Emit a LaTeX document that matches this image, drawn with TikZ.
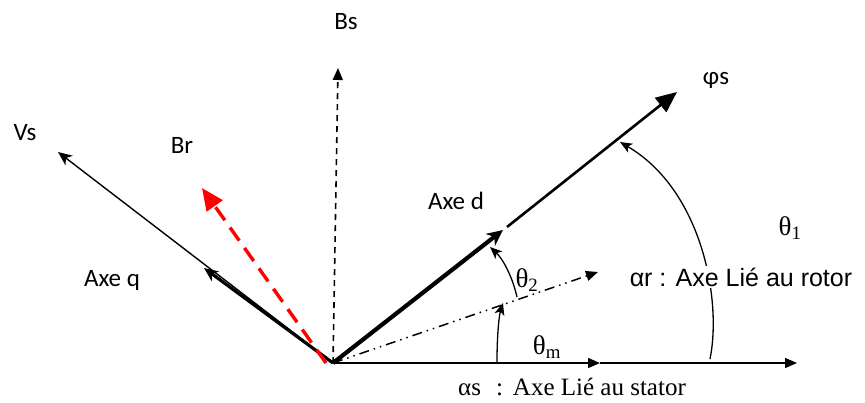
\documentclass[tikz,border=0pt]{standalone}
\usepackage{fontspec}
\setmainfont{Liberation Serif}
\newfontfamily\calib{Carlito}
\newfontfamily\arialf{Liberation Sans}
\usetikzlibrary{arrows.meta}
\tikzset{
  lbl/.style={inner sep=0pt, font=\calib\fontsize{25}{25}\selectfont},
  rlbl/.style={inner sep=0pt, font=\arialf\fontsize{25}{25}\selectfont, fill=white, inner xsep=3pt, inner ysep=2pt},
  slbl/.style={inner sep=0pt, font=\fontsize{25}{25}\selectfont},
  thl/.style={inner sep=0pt, font=\fontsize{27}{27}\selectfont},
  thin ax/.style={line width=1.5pt},
  tri/.style={-{Triangle[length=12pt,width=10pt]}},
  bigtri/.style={-{Triangle[length=21pt,width=18pt]}},
  stl/.style={-{Stealth[length=14pt,width=12pt,inset=4pt]}},
  arcar/.style={line width=1.3pt,-{Stealth[length=12pt,width=10pt,inset=3pt]}},
}
\begin{document}
\begin{tikzpicture}[x=1pt,y=-1pt]
\useasboundingbox (0,0) rectangle (865,402);
% coordinates
\coordinate (O) at (333,363);
\coordinate (Or) at (326,363);
\coordinate (hx1) at (600,363);
\coordinate (hx2) at (797,363);
\coordinate (bs) at (338,68);
\coordinate (vs) at (58,152);
\coordinate (q) at (204,268);
\coordinate (br) at (202,188);
\coordinate (d) at (503,230);
\coordinate (d2) at (507,227);
\coordinate (phi) at (677,92);
\coordinate (ar) at (598,272);
% alpha s axis
\draw[thin ax,tri] (O) -- (hx1);
\draw[thin ax,tri] (hx1) -- (hx2);
% Bs
\draw[line width=1.6pt,dash pattern=on 6pt off 5pt,tri] (O) -- (bs);
% Vs and axe q
\draw[line width=1.4pt,stl] (O) -- (vs);
\draw[line width=3.2pt,stl] (O) -- (q);
% Br
\draw[red,line width=3.4pt,dash pattern=on 16pt off 9pt,-{Triangle[length=22pt,width=19pt]}] (Or) -- (br);
% d axis and phi s
\draw[line width=4.2pt,-{Stealth[length=16pt,width=15pt,inset=5pt]}] (O) -- (d);
\draw[line width=2.6pt,bigtri] (d2) -- (phi);
% alpha r
\draw[line width=1.5pt,dash pattern=on 10pt off 5pt on 1.5pt off 5pt on 1.5pt off 5pt,tri] (O) -- (ar);
% angle arcs
\draw[arcar] (497,362) .. controls (497,335) and (499,316) .. (503,303);
\draw[arcar] (517,297) .. controls (512,275) and (502,258) .. (490,247);
\draw[arcar] (710,359) .. controls (722,300) and (702,190) .. (620,142);
% labels
\node[lbl] (lBs) at (346,22) {Bs};
\node[lbl] (lVs) at (25,133) {Vs};
\node[lbl] (lBr) at (182,145) {Br};
\node[lbl] (lq) at (112,280) {Axe q};
\node[lbl] (ld) at (456,201) {Axe d};
\node[lbl] (lphi) at (716,80) {φs};
\node[rlbl] (lar) at (741,277) {αr : Axe Lié au rotor};
\node[slbl] (las) at (572,387) {αs\hspace{0.6em}:\hspace{0.4em}Axe Lié au stator};
\node[thl] (t1) at (790,228) {θ\textsubscript{1}};
\node[thl] (t2) at (527,280) {θ\textsubscript{2}};
\node[thl] (tm) at (547,347) {θ\textsubscript{m}};
\end{tikzpicture}
\end{document}
